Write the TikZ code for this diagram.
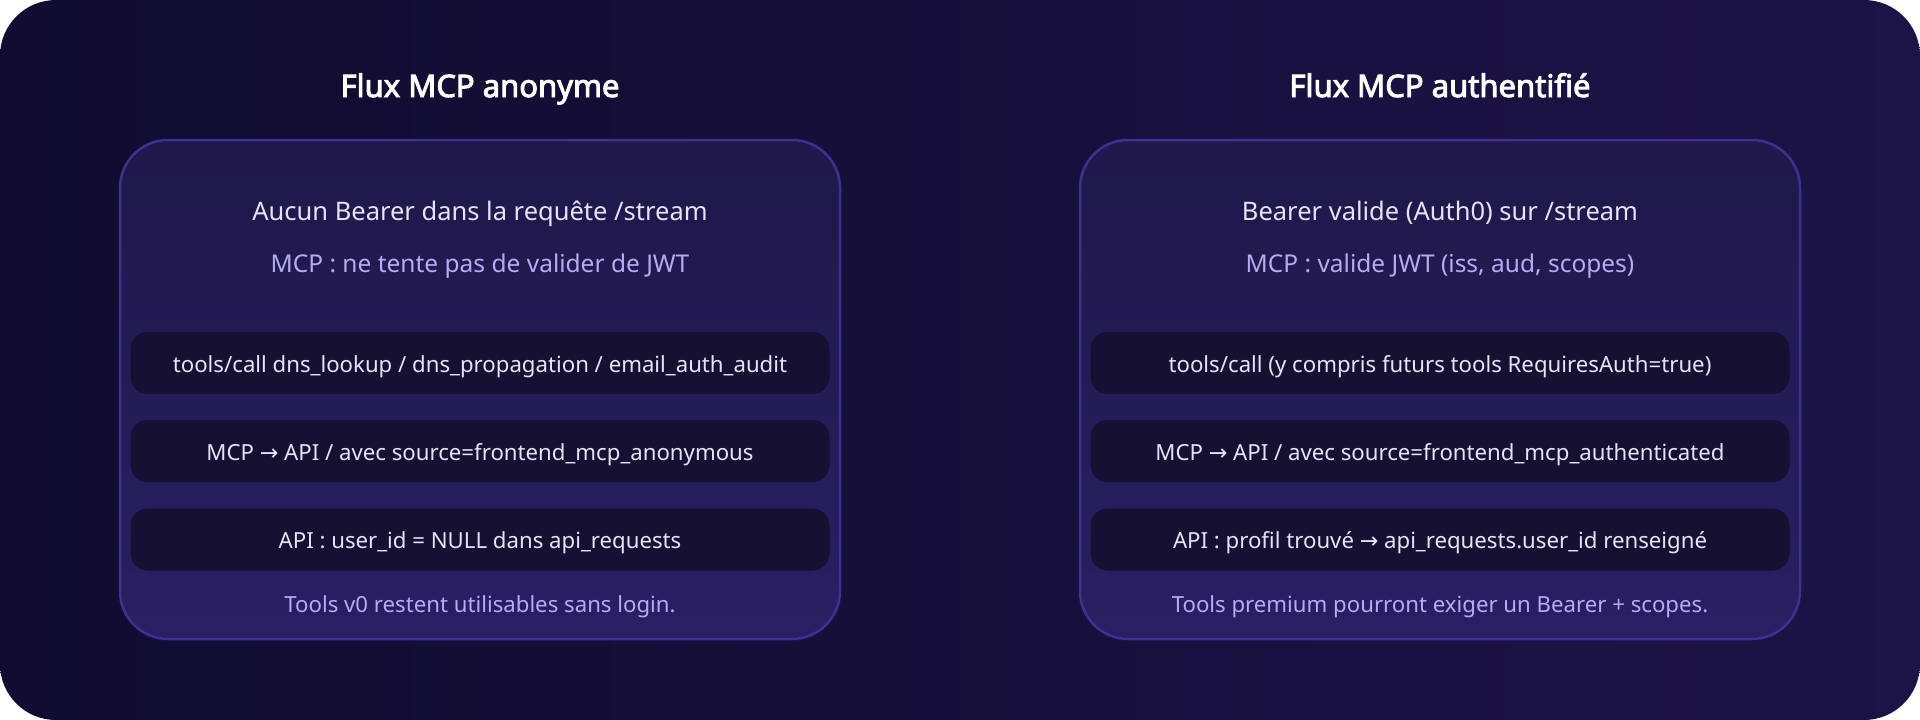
\documentclass[tikz,border=0pt]{standalone}
\usepackage{fontspec}
\setmainfont{Noto Sans}
\newfontfamily\titlefont{Noto Sans}[FakeBold=3]
\newfontfamily\arrfont{DejaVu Sans}
\newcommand{\rarr}{{\arrfont\char"2192}}
\definecolor{bgA}{HTML}{110C30}
\definecolor{bgB}{HTML}{1C1346}
\definecolor{panA}{HTML}{1F1849}
\definecolor{panB}{HTML}{291F63}
\definecolor{panLine}{HTML}{3D3191}
\definecolor{boxFill}{HTML}{161132}
\definecolor{txtMain}{HTML}{E6E3F7}
\definecolor{txtSub}{HTML}{B6ACF2}
\tikzset{
  panel/.style={draw=panLine, line width=2.5pt, rounded corners=48pt, top color=panA, bottom color=panB, minimum width=720pt, minimum height=499pt, inner sep=0pt},
  stepbox/.style={fill=boxFill, rounded corners=17pt, minimum width=699pt, minimum height=62pt, inner sep=0pt, text height=18pt, text depth=0pt, text=txtMain, font=\fontsize{22.2}{26}\selectfont},
  title/.style={anchor=base, inner sep=0pt, text=white, font=\titlefont\fontsize{31}{36}\selectfont},
  head/.style={anchor=base, inner sep=0pt, text=txtMain, font=\fontsize{25.5}{30}\selectfont},
  sub/.style={anchor=base, inner sep=0pt, text=txtSub, font=\fontsize{24.5}{29}\selectfont},
  foot/.style={anchor=base, inner sep=0pt, text=txtSub, font=\fontsize{22.2}{27}\selectfont},
}
\begin{document}
\begin{tikzpicture}[x=1pt,y=-1pt]
\useasboundingbox (0,0) rectangle (1920,720);
\fill[white] (0,0) rectangle (1920,720);
\path[rounded corners=56pt, left color=bgA, right color=bgB] (0,0) rectangle (1920,720);

% Left
\node[title] (lt) at (480,97) {Flux MCP anonyme};
\node[panel] (lp) at (480,389.5) {};
\node[head] (lh) at (480,220) {Aucun Bearer dans la requête /stream};
\node[sub] (ls) at (480,272) {MCP : ne tente pas de valider de JWT};
\node[stepbox] (lb1) at (480,363) {tools/call dns\_lookup / dns\_propagation / email\_auth\_audit};
\node[stepbox] (lb2) at (480,451) {MCP \rarr{} API / avec source=frontend\_mcp\_anonymous};
\node[stepbox] (lb3) at (480,539.5) {API : user\_id = NULL dans api\_requests};
\node[foot] (lf) at (480,612) {Tools v0 restent utilisables sans login.};

% Right
\node[title] (rt) at (1440,97) {Flux MCP authentifié};
\node[panel] (rp) at (1440,389.5) {};
\node[head] (rh) at (1440,220) {Bearer valide (Auth0) sur /stream};
\node[sub] (rs) at (1440,272) {MCP : valide JWT (iss, aud, scopes)};
\node[stepbox] (rb1) at (1440,363) {tools/call (y compris futurs tools RequiresAuth=true)};
\node[stepbox] (rb2) at (1440,451) {MCP \rarr{} API / avec source=frontend\_mcp\_authenticated};
\node[stepbox] (rb3) at (1440,539.5) {API : profil trouvé \rarr{} api\_requests.user\_id renseigné};
\node[foot] (rf) at (1440,612) {Tools premium pourront exiger un Bearer + scopes.};
\end{tikzpicture}
\end{document}
